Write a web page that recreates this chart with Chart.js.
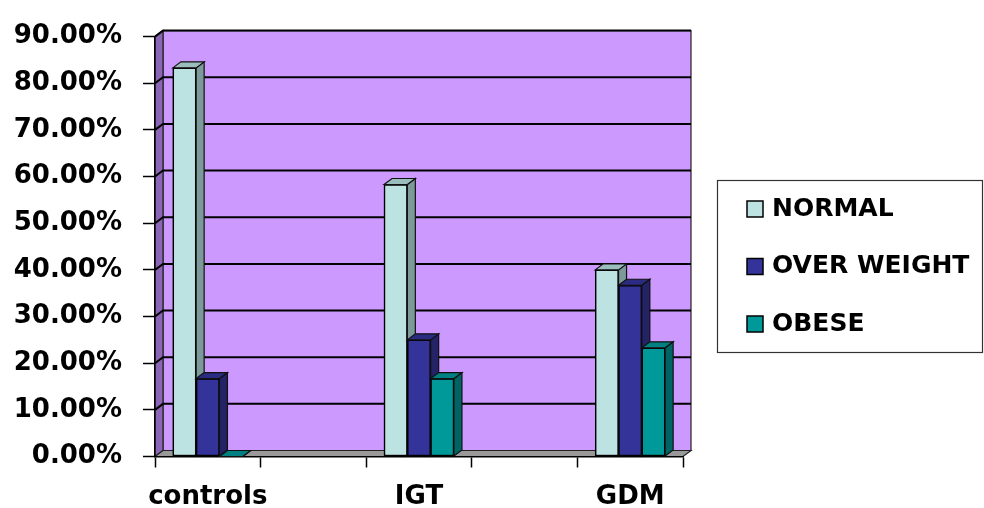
<!DOCTYPE html>
<html>
<head>
<meta charset="utf-8">
<title>BMI groups</title>
<script src="https://cdn.jsdelivr.net/npm/chart.js@4.4.1/dist/chart.umd.min.js"></script>
<style>
    html, body { margin: 0; padding: 0; background: #fff; }
    #wrap { width: 984px; height: 508px; }
</style>
</head>
<body>
<div id="wrap"><canvas id="bmiChart" width="984" height="508"></canvas></div>
<script>
// --- Data ---
const categories = ['controls', 'IGT', 'GDM'];
const seriesNames = ['NORMAL', 'OVER WEIGHT', 'OBESE'];
const normalValues = [83.3, 58.3, 40.0];
const overWeightValues = [16.7, 25.0, 36.7];
const obeseValues = [0, 16.7, 23.3];
const yTicks = [0, 10, 20, 30, 40, 50, 60, 70, 80, 90];

// depth of the fake 3D look
const DX = 8, DY = -6;
const FONT = { family: 'DejaVu Sans', weight: 'bold', size: 26 };

function poly(ctx, pts, fill, stroke) {
    ctx.beginPath();
    ctx.moveTo(pts[0][0], pts[0][1]);
    for (let i = 1; i < pts.length; i++) ctx.lineTo(pts[i][0], pts[i][1]);
    ctx.closePath();
    ctx.fillStyle = fill;
    ctx.fill();
    if (stroke) {
        ctx.strokeStyle = stroke;
        ctx.lineWidth = 1.2;
        ctx.stroke();
    }
}

// --- Walls, floor and back gridlines ---
const walls3d = {
    id: 'walls3d',
    beforeDraw(chart) {
        const { ctx, chartArea: a } = chart;
        ctx.save();
        ctx.fillStyle = '#fff';
        ctx.fillRect(0, 0, chart.width, chart.height);

        // back wall
        poly(ctx, [[a.left + DX, a.top + DY], [a.right + DX, a.top + DY],
                   [a.right + DX, a.bottom + DY], [a.left + DX, a.bottom + DY]], '#CC99FF', '#222');
        // left side wall
        poly(ctx, [[a.left, a.top], [a.left + DX, a.top + DY],
                   [a.left + DX, a.bottom + DY], [a.left, a.bottom]], '#8C66B6', '#222');
        // floor
        poly(ctx, [[a.left, a.bottom], [a.left + DX, a.bottom + DY],
                   [a.right + DX, a.bottom + DY], [a.right, a.bottom]], '#999999', '#222');

        // gridlines run over the side wall and across the back wall
        const yScale = chart.scales.y;
        ctx.strokeStyle = '#000';
        ctx.lineWidth = 2;
        yScale.ticks.forEach(t => {
            if (t.value === 0) return;
            const py = yScale.getPixelForValue(t.value);
            ctx.beginPath();
            ctx.moveTo(a.left, py);
            ctx.lineTo(a.left + DX, py + DY);
            ctx.lineTo(a.right + DX, py + DY);
            ctx.stroke();
        });
        ctx.restore();
    }
};

// --- Bar tops and sides, drawn left to right so neighbours overlap properly ---
const bars3d = {
    id: 'bars3d',
    afterDatasetsDraw(chart) {
        const ctx = chart.ctx;
        ctx.save();
        categories.forEach((c, i) => {
            chart.data.datasets.forEach((ds, s) => {
                const bar = chart.getDatasetMeta(s).data[i];
                if (!bar) return;
                bar.draw(ctx, chart.chartArea);
                const { x, y, base, width } = bar.getProps(['x', 'y', 'base', 'width'], true);
                const l = x - width / 2, r = x + width / 2;
                poly(ctx, [[r, y], [r + DX, y + DY], [r + DX, base + DY], [r, base]], ds.sideColor, '#111');
                poly(ctx, [[l, y], [l + DX, y + DY], [r + DX, y + DY], [r, y]], ds.topColor, '#111');
            });
        });
        ctx.restore();
    }
};

// --- Legend box on the right ---
const boxLegend = {
    id: 'boxLegend',
    afterDraw(chart) {
        const ctx = chart.ctx;
        ctx.save();
        ctx.strokeStyle = '#333';
        ctx.lineWidth = 1.2;
        ctx.strokeRect(717.5, 180.5, 265, 172);
        ctx.font = 'bold 25px "DejaVu Sans"';
        ctx.textBaseline = 'middle';
        chart.data.datasets.forEach((ds, s) => {
            const cy = 209 + s * 57.5;
            ctx.fillStyle = ds.backgroundColor;
            ctx.fillRect(747, cy - 8, 16, 16);
            ctx.strokeStyle = '#000';
            ctx.lineWidth = 1.5;
            ctx.strokeRect(747, cy - 8, 16, 16);
            ctx.fillStyle = '#000';
            ctx.fillText(ds.label, 772, cy);
        });
        ctx.restore();
    }
};

function makeSet(label, values, front, top, side) {
    return {
        label: label,
        data: values.map((v, i) => ({ x: i, y: v })),
        backgroundColor: front,
        topColor: top,
        sideColor: side,
        borderColor: '#000',
        borderWidth: 1.5,
        borderSkipped: false,
        barThickness: 23.3
    };
}

document.addEventListener('DOMContentLoaded', function () {
    const ctx = document.getElementById('bmiChart').getContext('2d');

    new Chart(ctx, {
        type: 'bar',
        data: {
            datasets: [
                makeSet(seriesNames[0], normalValues, '#BDE2E2', '#9BBDBD', '#7C9A9A'),
                makeSet(seriesNames[1], overWeightValues, '#333399', '#2B2B82', '#232366'),
                makeSet(seriesNames[2], obeseValues, '#009999', '#008080', '#006464')
            ]
        },
        options: {
            responsive: false,
            animation: false,
            devicePixelRatio: 1,
            layout: { padding: { top: 33, right: 301, bottom: 0, left: 0 } },
            plugins: { legend: { display: false }, tooltip: { enabled: false } },
            scales: {
                x: {
                    type: 'linear',
                    offset: false,
                    min: -0.25,
                    max: categories.length - 0.75,
                    afterFit: (scale) => { scale.height = 51.5; },
                    afterBuildTicks: (scale) => {
                        scale.ticks = categories.flatMap((c, i) => [i - 0.25, i, i + 0.25])
                            .map(v => ({ value: v }));
                    },
                    grid: {
                        offset: false,
                        drawOnChartArea: false,
                        drawTicks: true,
                        tickLength: 11,
                        tickWidth: 1.5,
                        tickColor: (c) => Number.isInteger(c.tick.value) ? 'rgba(0,0,0,0)' : '#000'
                    },
                    border: { display: true, color: '#000', width: 1.5 },
                    ticks: {
                        autoSkip: false,
                        maxRotation: 0,
                        padding: 14,
                        color: '#000',
                        font: FONT,
                        callback: (v) => Number.isInteger(v) ? categories[v] : ''
                    }
                },
                y: {
                    min: 0,
                    max: 90,
                    afterFit: (scale) => { scale.width = 155; },
                    afterBuildTicks: (scale) => {
                        scale.ticks = yTicks.map(v => ({ value: v }));
                    },
                    grid: {
                        drawOnChartArea: false,
                        drawTicks: true,
                        tickLength: 12,
                        tickWidth: 1.5,
                        tickColor: '#000'
                    },
                    border: { display: true, color: '#000', width: 1.5 },
                    ticks: {
                        autoSkip: false,
                        padding: 21,
                        color: '#000',
                        font: FONT,
                        callback: (v) => v.toFixed(2) + '%'
                    }
                }
            }
        },
        plugins: [walls3d, bars3d, boxLegend]
    });
});
</script>
</body>
</html>
